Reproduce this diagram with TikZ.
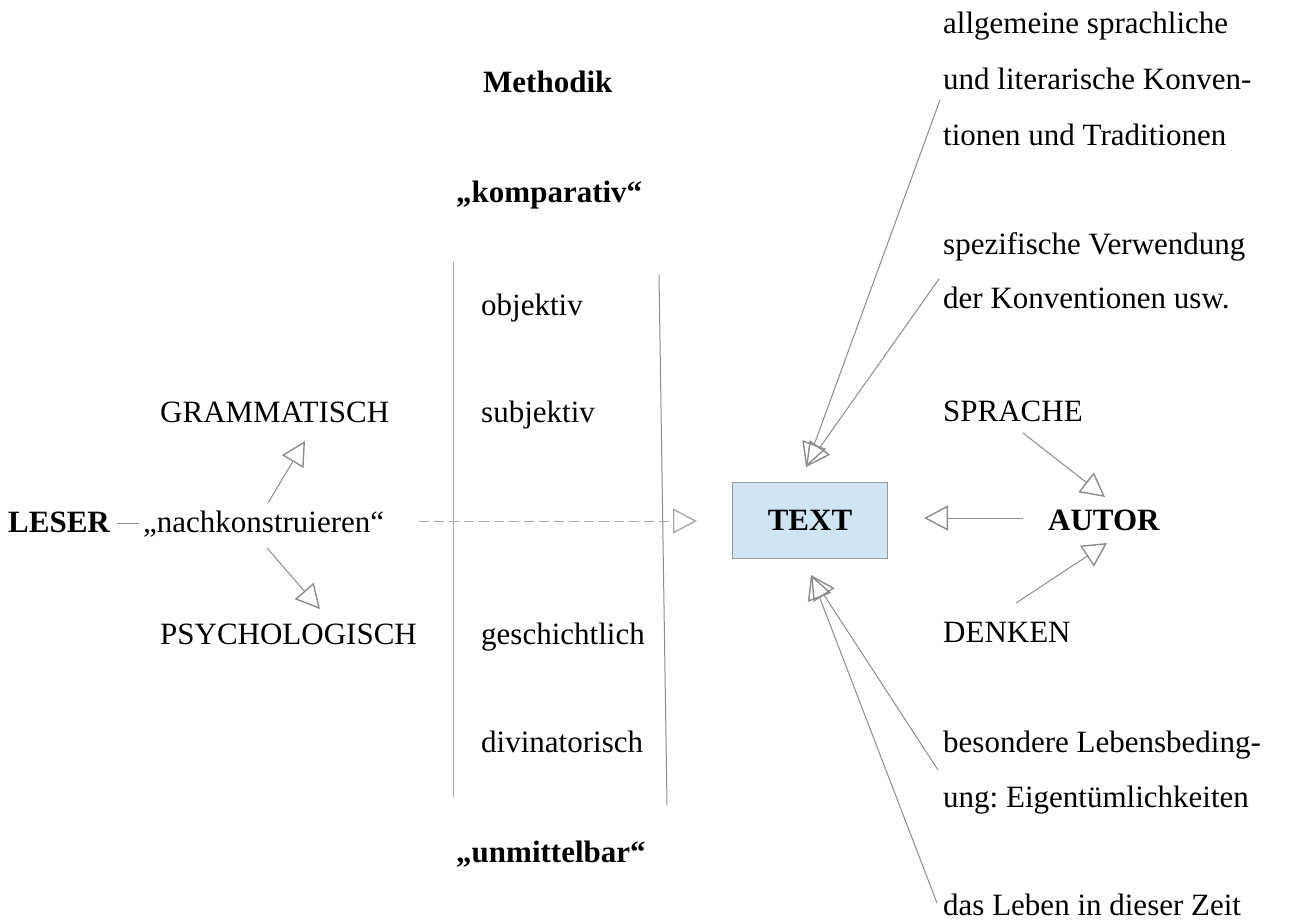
\documentclass[tikz,border=0pt]{standalone}
\usepackage{fontspec}
\setmainfont{Liberation Serif}
\usetikzlibrary{arrows.meta}
\definecolor{linegray}{HTML}{8C8C8C}
\definecolor{vlgray}{HTML}{A8A8A8}
\definecolor{dashgray}{HTML}{AAAAAA}
\definecolor{boxblue}{HTML}{CFE5F3}
\definecolor{boxedge}{HTML}{9A9A9A}
\frenchspacing
\begin{document}
\begin{tikzpicture}[x=1pt,y=-1pt,
  lbl/.style={anchor=base west, inner sep=0pt, font=\fontsize{31}{37}\selectfont},
  blbl/.style={anchor=base west, inner sep=0pt, font=\fontsize{31}{37}\selectfont\bfseries},
  conn/.style={draw=linegray, line width=1pt},
  arr/.style={conn, -{Triangle[open, length=24pt, width=25pt, line width=1.4pt]}},
  dasharr/.style={draw=dashgray, line width=1pt, dash pattern=on 10pt off 5pt,
     -{Triangle[open, length=24pt, width=25pt, line width=1.4pt, sep=0pt]}},
  vline/.style={draw=vlgray, line width=1pt},
  vline2/.style={draw=linegray, line width=1pt},
  textbox/.style={draw=boxedge, fill=boxblue, line width=1pt, minimum width=155pt,
     minimum height=76pt, inner sep=0pt, font=\fontsize{31}{37}\selectfont\bfseries}
]
\useasboundingbox (0,0) rectangle (1289,922);

% left part
\node[blbl] (leser) at (8,532) {LESER};
\node[lbl] (nach) at (143,532) {„nachkonstruieren“};
\node[lbl] (gramm) at (160,422) {GRAMMATISCH};
\node[lbl] (psych) at (160,644) {PSYCHOLOGISCH};

% middle column
\node[blbl] (methodik) at (483,92) {Methodik};
\node[blbl] (kompar) at (456,202) {„komparativ“};
\node[lbl] (objektiv) at (481,315) {objektiv};
\node[lbl] (subjektiv) at (481,422) {subjektiv};
\node[lbl] (gesch) at (481,644) {geschichtlich};
\node[lbl] (divin) at (481,752) {divinatorisch};
\node[blbl] (unmittel) at (456,862) {„unmittelbar“};

% text box and author
\node[textbox] (text) at (810,520) {TEXT};
\node[blbl] (autor) at (1048,530) {AUTOR};
\node[lbl] (sprache) at (943,421) {SPRACHE};
\node[lbl] (denken) at (943,642) {DENKEN};

% right column
\node[lbl] (allg1) at (943,33) {allgemeine sprachliche};
\node[lbl] (allg2) at (943,89) {und literarische Konven-};
\node[lbl] (allg3) at (943,145) {tionen und Traditionen};
\node[lbl] (spez1) at (943,254) {spezifische Verwendung};
\node[lbl] (spez2) at (943,308) {der Konventionen usw.};
\node[lbl] (bes1) at (943,752) {besondere Lebensbeding-};
\node[lbl] (bes2) at (943,807) {ung: Eigentümlichkeiten};
\node[lbl] (leben) at (943,915) {das Leben in dieser Zeit};

% connector end points
\coordinate (lesere) at (117,523);
\coordinate (nachw) at (139,523);
\coordinate (nachn) at (268,503);
\coordinate (grammin) at (305,441);
\coordinate (nachs) at (267,548);
\coordinate (psychin) at (320,609);
\coordinate (nache) at (419,521);
\coordinate (textw) at (697,521);
\coordinate (autorw) at (1023,518);
\coordinate (texte) at (924,518);
\coordinate (sprout) at (1023,433);
\coordinate (autorn) at (1105,497);
\coordinate (denout) at (1016,603);
\coordinate (autors) at (1107,543);
\coordinate (allgout) at (940,100);
\coordinate (spezout) at (939,279);
\coordinate (textn) at (806,467);
\coordinate (besout) at (938,770);
\coordinate (lebout) at (937,903);
\coordinate (texts) at (811,575);
\coordinate (v1t) at (453,262);
\coordinate (v1b) at (453,797);
\coordinate (v2t) at (659,275);
\coordinate (v2b) at (667,805);

% vertical separators
\draw[vline] (v1t) -- (v1b);
\draw[vline2] (v2t) -- (v2b);

% connectors
\draw[conn] (lesere) -- (nachw);
\draw[arr] (nachn) -- (grammin);
\draw[arr] (nachs) -- (psychin);
\draw[dasharr] (nache) -- (textw);
\draw[arr] (autorw) -- (texte);
\draw[arr] (sprout) -- (autorn);
\draw[arr] (denout) -- (autors);
\draw[arr] (allgout) -- (textn);
\draw[arr] (spezout) -- (textn);
\draw[arr] (besout) -- (texts);
\draw[arr] (lebout) -- (texts);
\end{tikzpicture}
\end{document}
